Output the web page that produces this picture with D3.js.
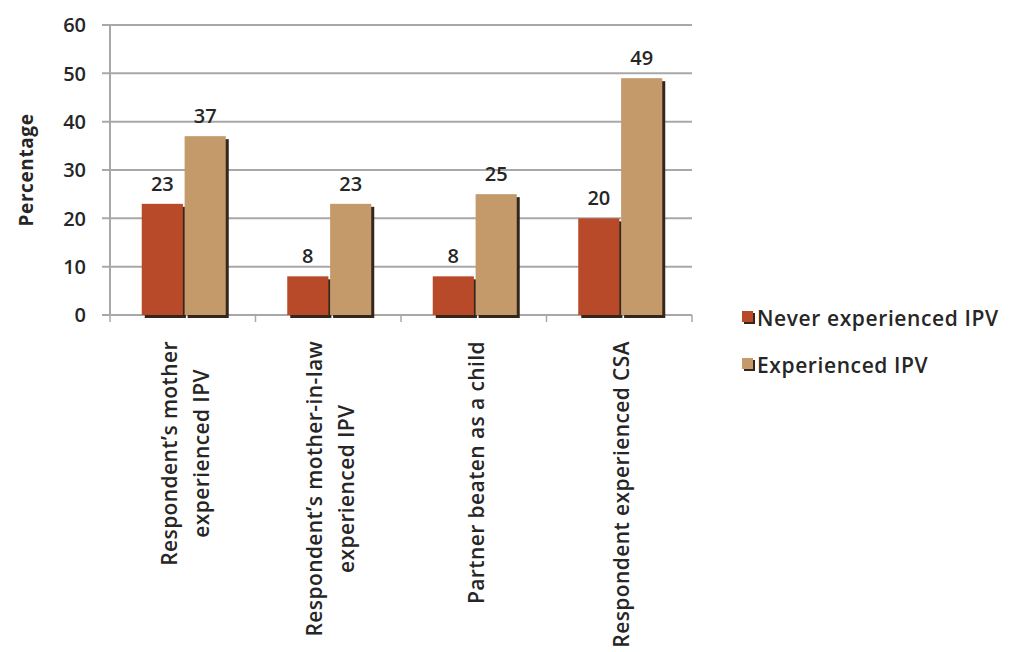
<!DOCTYPE html>
<html>
<head>
<meta charset="utf-8">
<script src="https://cdn.jsdelivr.net/npm/d3@7"></script>
<style>
  html, body { margin: 0; padding: 0; background: #ffffff; }
  svg { display: block; }
</style>
</head>
<body>
<svg id="chart" width="1013" height="652"></svg>
<script>
// ---- data ----
const categories = [
  ["Respondent’s mother", "experienced IPV"],
  ["Respondent’s mother-in-law", "experienced IPV"],
  ["Partner beaten as a child"],
  ["Respondent experienced CSA"]
];
const seriesNames = ["Never experienced IPV", "Experienced IPV"];
const neverIPV = [23, 8, 8, 20];
const experiencedIPV = [37, 23, 25, 49];
const yTicks = [0, 10, 20, 30, 40, 50, 60];
const yTitle = "Percentage";

(function () {
// ---- style ----
const colors = ["#B84A29", "#C49A6B"];
const shadowColor = "#34261d";
const gridColor = "#a8a8a8";
const textColor = "#262626";
const fontFamily = "'Open Sans', 'DejaVu Sans', sans-serif";
const labelFont = { size: 21, weight: 600, spacing: 0.6 };

const svg = d3.select("#chart");
const mLeft = 110, mRight = 692, mTop = 25, mBottom = 315;

const y = d3.scaleLinear().domain([0, 60]).range([mBottom, mTop]);
const x = d3.scaleBand().domain(d3.range(categories.length)).range([mLeft, mRight]).paddingInner(0).paddingOuter(0);
const xs = d3.scaleBand().domain(seriesNames).range([0, 84]).paddingInner(0.04);
const groupOffset = (x.bandwidth() - 84) / 2 + 1;

const defs = svg.append("defs");
defs.append("filter").attr("id", "blur").attr("x", "-20%").attr("y", "-20%").attr("width", "140%").attr("height", "140%")
  .append("feGaussianBlur").attr("stdDeviation", 0.7);

// gridlines
svg.append("g").selectAll("line").data(yTicks).join("line")
  .attr("x1", mLeft - 8).attr("x2", mRight)
  .attr("y1", d => y(d)).attr("y2", d => y(d))
  .attr("stroke", gridColor).attr("stroke-width", 2);

// y axis line
svg.append("line").attr("x1", mLeft).attr("x2", mLeft).attr("y1", mTop).attr("y2", mBottom)
  .attr("stroke", gridColor).attr("stroke-width", 2);

// x tick marks
svg.append("g").selectAll("line").data(d3.range(categories.length + 1)).join("line")
  .attr("x1", d => mLeft + d * x.bandwidth()).attr("x2", d => mLeft + d * x.bandwidth())
  .attr("y1", mBottom).attr("y2", mBottom + 7)
  .attr("stroke", gridColor).attr("stroke-width", 1.5);

// y tick labels
svg.append("g").selectAll("text").data(yTicks).join("text")
  .attr("x", 86).attr("y", d => y(d)).attr("dy", "0.36em")
  .attr("text-anchor", "end")
  .attr("font-family", fontFamily).attr("font-size", 20).attr("font-weight", 600)
  .attr("fill", textColor)
  .text(d => d);

// y title
svg.append("text")
  .attr("transform", `translate(33, 170) rotate(-90)`)
  .attr("text-anchor", "middle")
  .attr("font-family", fontFamily).attr("font-size", 19).attr("font-weight", 700)
  .attr("letter-spacing", 0.6)
  .attr("fill", textColor)
  .text(yTitle);

// bars
const rows = categories.map((c, i) => ({ i, vals: [neverIPV[i], experiencedIPV[i]] }));
const groups = svg.append("g").selectAll("g").data(rows).join("g")
  .attr("transform", d => `translate(${x(d.i) + groupOffset},0)`);

const barData = d => d.vals.map((v, k) => ({ v, k, name: seriesNames[k] }));

groups.selectAll("rect.shadow").data(barData).join("rect")
  .attr("class", "shadow")
  .attr("x", d => xs(d.name) + 3).attr("y", d => y(d.v) + 3)
  .attr("width", xs.bandwidth()).attr("height", d => y(0) - y(d.v))
  .attr("fill", shadowColor).attr("filter", "url(#blur)");

groups.selectAll("rect.bar").data(barData).join("rect")
  .attr("class", "bar")
  .attr("x", d => xs(d.name)).attr("y", d => y(d.v))
  .attr("width", xs.bandwidth()).attr("height", d => y(0) - y(d.v))
  .attr("fill", d => colors[d.k]);

groups.selectAll("text.val").data(barData).join("text")
  .attr("class", "val")
  .attr("x", d => xs(d.name) + xs.bandwidth() / 2)
  .attr("y", d => y(d.v) - 13)
  .attr("text-anchor", "middle")
  .attr("font-family", fontFamily).attr("font-size", 20).attr("font-weight", 600)
  .attr("fill", textColor)
  .text(d => d.v);

// category labels (rotated, multi-line, centered)
const labelTop = 341;
const lineGap = 32;
categories.forEach((lines, i) => {
  const cx = x(i) + x.bandwidth() / 2 + 2;
  const g = svg.append("g");
  const texts = lines.map((ln, j) => {
    const off = (j - (lines.length - 1) / 2) * lineGap;
    return g.append("text")
      .attr("text-anchor", "middle")
      .attr("dominant-baseline", "central")
      .attr("font-family", fontFamily).attr("font-size", labelFont.size).attr("font-weight", labelFont.weight)
      .attr("letter-spacing", 0.4)
      .attr("fill", textColor)
      .datum(off)
      .text(ln);
  });
  const maxLen = d3.max(texts, t => t.node().getComputedTextLength());
  const cy = labelTop + maxLen / 2;
  texts.forEach(t => {
    t.attr("transform", `translate(${cx + t.datum()}, ${cy}) rotate(-90)`);
  });
});

// legend
const legendY = [318, 365];
const legend = svg.append("g").selectAll("g").data(seriesNames).join("g")
  .attr("transform", (d, k) => `translate(742, ${legendY[k]})`);
legend.append("rect").attr("x", 2).attr("y", -5).attr("width", 11).attr("height", 11)
  .attr("fill", shadowColor).attr("filter", "url(#blur)");
legend.append("rect").attr("x", 0).attr("y", -7).attr("width", 11).attr("height", 11)
  .attr("fill", (d, k) => colors[k]);
legend.append("text").attr("x", 15).attr("y", 0).attr("dy", "0.36em")
  .attr("font-family", fontFamily).attr("font-size", labelFont.size).attr("font-weight", labelFont.weight)
  .attr("letter-spacing", labelFont.spacing)
  .attr("fill", textColor)
  .text(d => d);
})();
</script>
</body>
</html>
